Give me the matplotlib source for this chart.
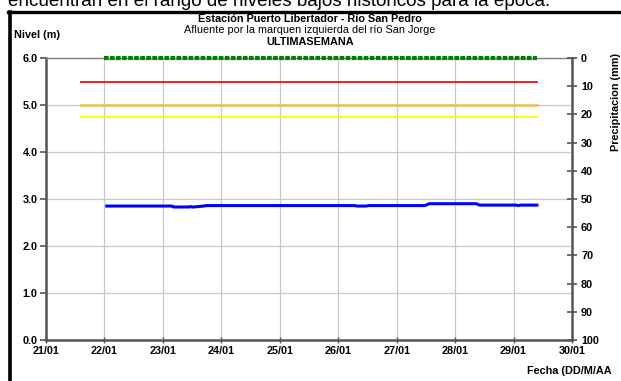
import matplotlib
matplotlib.use("Agg")
import matplotlib.pyplot as plt
from matplotlib.lines import Line2D

plt.rcParams["font.family"] = ["Liberation Sans", "DejaVu Sans"]

# Water level readings (day of January, level in metres)
level_days = [22.04, 23.16, 23.18, 23.45, 23.47, 23.50, 23.53, 23.70, 23.74,
              26.28, 26.32, 26.48, 26.52, 27.48, 27.56, 28.36, 28.42,
              29.05, 29.08, 29.12, 29.40]
level_values = [2.85, 2.85, 2.83, 2.83, 2.84, 2.83, 2.83, 2.85, 2.86,
                2.86, 2.85, 2.85, 2.86, 2.86, 2.90, 2.90, 2.87,
                2.87, 2.86, 2.87, 2.87]

# Reference levels (m)
green_level = 6.0
red_level = 5.5
orange_level = 5.0
yellow_level = 4.75
alert_start, alert_end = 21.6, 29.4
green_start, green_end = 22.0, 29.4

day_ticks = list(range(21, 31))
day_labels = [f"{d:02d}/01" for d in day_ticks]
level_ticks = [0.0, 1.0, 2.0, 3.0, 4.0, 5.0, 6.0]
rain_ticks = list(range(0, 101, 10))

FS = 7.8

fig = plt.figure(figsize=(6.21, 3.81), dpi=100)

# outer frame of the chart panel and the partly hidden sentence above it
fig.add_artist(Line2D([9.5 / 621, 9.5 / 621], [0, 1 - 12 / 381],
                      transform=fig.transFigure, color="black", lw=2.6))
fig.add_artist(Line2D([8 / 621, 1], [1 - 12 / 381, 1 - 12 / 381],
                      transform=fig.transFigure, color="black", lw=2.4))
fig.text(8 / 621, 1 - 6 / 381,
         "encuentran en el rango de niveles bajos históricos para la época.",
         fontsize=13.6, ha="left", va="baseline", color="black")

ax = fig.add_axes([46 / 621, 1 - 340 / 381, 526 / 621, 282 / 381])
ax.set_xlim(21, 30)
ax.set_ylim(0, 6)
ax.set_xticks(day_ticks)
ax.set_xticklabels(day_labels, fontsize=FS, fontweight="bold")
ax.set_yticks(level_ticks)
ax.set_yticklabels([f"{v:.1f}" for v in level_ticks], fontsize=FS,
                   fontweight="bold")
ax.grid(True, color="#c8c8c8", lw=0.9)
ax.set_axisbelow(True)
ax.tick_params(axis="y", direction="out", length=4, width=1.2,
               color="#555555", pad=2)
ax.tick_params(axis="x", direction="inout", length=5, width=1.0,
               color="#555555", pad=2)
for side in ("left", "bottom"):
    ax.spines[side].set_color("#555555")
    ax.spines[side].set_linewidth(1.8)
ax.spines["top"].set_color("#808080")
ax.spines["top"].set_linewidth(1.0)
ax.spines["right"].set_visible(False)

ax.plot([green_start, green_end], [green_level] * 2, color="#008000",
        lw=3.0, ls=(0, (1.1, 0.35)), solid_capstyle="butt", zorder=4,
        clip_on=False)
ax.plot([alert_start, alert_end], [red_level] * 2, color="#ee1111", lw=1.3)
ax.plot([alert_start, alert_end], [orange_level] * 2, color="#e8c050", lw=1.8)
ax.plot([alert_start, alert_end], [yellow_level] * 2, color="#ffff00", lw=1.4)
ax.plot(level_days, level_values, color="#0000ff", lw=2.2, zorder=5)

ax2 = ax.twinx()
ax2.set_ylim(100, 0)
ax2.set_yticks(rain_ticks)
ax2.set_yticklabels([str(t) for t in rain_ticks], fontsize=FS,
                    fontweight="bold")
ax2.tick_params(axis="y", direction="inout", length=7, width=1.2,
                color="#555555", pad=3)
for side in ("left", "top", "bottom"):
    ax2.spines[side].set_visible(False)
ax2.spines["right"].set_color("#555555")
ax2.spines["right"].set_linewidth(1.8)
ax2.set_ylabel("Precipitacion (mm)", fontsize=FS, fontweight="bold")
ax2.yaxis.set_label_coords(1.074, 0.845)

fig.text(310 / 621, 1 - 21.5 / 381, "Estación Puerto Libertador - Río San Pedro",
         fontsize=FS, fontweight="bold", ha="center", va="baseline")
fig.text(310 / 621, 1 - 33 / 381,
         "Afluente por la marquen izquierda del río San Jorge",
         fontsize=FS, ha="center", va="baseline")
fig.text(310 / 621, 1 - 45 / 381, "ULTIMASEMANA", fontsize=FS,
         fontweight="bold", ha="center", va="baseline")
fig.text(14 / 621, 1 - 38.5 / 381, "Nivel (m)", fontsize=FS, fontweight="bold",
         ha="left", va="baseline")
fig.text(527 / 621, 1 - 371 / 381, "Fecha (DD/M/AA", fontsize=FS,
         fontweight="bold", ha="left", va="center")

fig.savefig("out.png", dpi=100)
